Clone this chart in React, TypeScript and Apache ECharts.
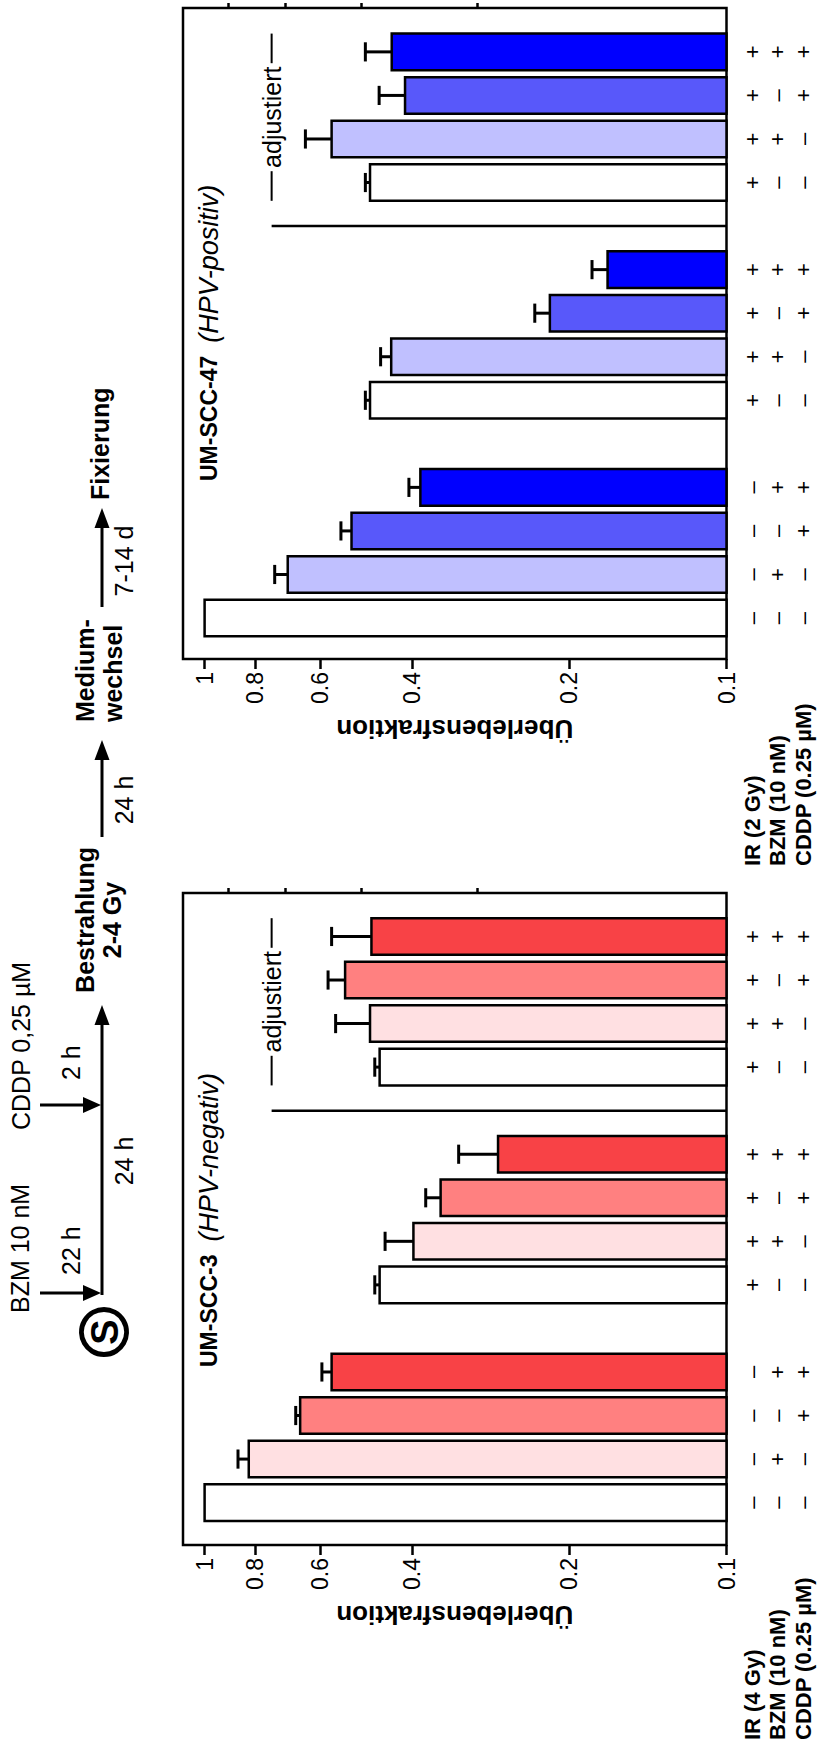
import React, { useEffect, useRef } from "react";
import * as echarts from "echarts";

// ---------------- data ----------------
const IR_ROW = ["–", "–", "–", "–", "+", "+", "+", "+", "+", "+", "+", "+"];
const BZM_ROW = ["–", "+", "–", "+", "–", "+", "–", "+", "–", "+", "–", "+"];
const CDDP_ROW = ["–", "–", "+", "+", "–", "–", "+", "+", "–", "–", "+", "+"];
const GROUP_SIZE = 4;
const ADJUSTED_GROUP = 2; // third group is "adjustiert"

const ROW_NAMES_SCC3 = ["IR (4 Gy)", "BZM (10 nM)", "CDDP (0.25 µM)"];
const ROW_NAMES_SCC47 = ["IR (2 Gy)", "BZM (10 nM)", "CDDP (0.25 µM)"];

const SCC3_VALUES = [1.0, 0.823, 0.656, 0.571, 0.462, 0.398, 0.353, 0.274, 0.462, 0.482, 0.538, 0.479];
const SCC3_ERRORS = [0, 0.04, 0.013, 0.025, 0.01, 0.053, 0.024, 0.052, 0.01, 0.079, 0.042, 0.092];
const SCC47_VALUES = [1.0, 0.693, 0.523, 0.386, 0.482, 0.439, 0.218, 0.169, 0.482, 0.571, 0.413, 0.438];
const SCC47_ERRORS = [0, 0.041, 0.025, 0.02, 0.01, 0.021, 0.015, 0.012, 0.01, 0.07, 0.05, 0.054];

const MAJOR_TICKS = [0.1, 0.2, 0.4, 0.6, 0.8, 1];
const MINOR_TICKS = [0.3, 0.5, 0.7, 0.9];
const Y_MIN = 0.1;
const Y_MAX = 1.1;
const ADJUSTED_LEVEL = 0.744;

const RED_PALETTE = ["#ffffff", "#ffe0e2", "#ff8080", "#f84246"];
const BLUE_PALETTE = ["#ffffff", "#c0c0ff", "#5858fa", "#0000ff"];

// ---------------- layout / style ----------------
const FONT = "'Liberation Sans', Arial, Helvetica, sans-serif";
const W = 1742;
const H = 818;
const TOP = 183;
const PLOT_H = 543.5;
const SLOT = 43.55;
const BAR_RATIO = 0.84;
const CAP_RATIO = 0.44;
const LW = 2.5;
const TITLE_BOLD = 23;
const TITLE_ITALIC = 27;

const CHARTS = [
  {
    title: "UM-SCC-3",
    subtitle: "(HPV-negativ)",
    values: SCC3_VALUES,
    errors: SCC3_ERRORS,
    rows: ROW_NAMES_SCC3,
    palette: RED_PALETTE,
    frameLeft: 197,
    frameWidth: 652,
    dataLeft: 217.6,
    rowLabelX: 2,
  },
  {
    title: "UM-SCC-47",
    subtitle: "(HPV-positiv)",
    values: SCC47_VALUES,
    errors: SCC47_ERRORS,
    rows: ROW_NAMES_SCC47,
    palette: BLUE_PALETTE,
    frameLeft: 1083,
    frameWidth: 651,
    dataLeft: 1102.2,
    rowLabelX: 876,
  },
];

const N = IR_ROW.length;
const catOf = (i: number) => i + Math.floor(i / GROUP_SIZE);
const CAT_COUNT = catOf(N - 1) + 1;
const CAT_NAMES = Array.from({ length: CAT_COUNT }, (_, i) => "c" + i);
const CAT_LABELS: string[] = Array.from({ length: CAT_COUNT }, () => "");
IR_ROW.forEach((_, i) => {
  CAT_LABELS[catOf(i)] = `${IR_ROW[i]}\n${BZM_ROW[i]}\n${CDDP_ROW[i]}`;
});
const colorKey = (i: number) => (BZM_ROW[i] === "+" ? 1 : 0) + (CDDP_ROW[i] === "+" ? 2 : 0);

const firstAdj = ADJUSTED_GROUP * GROUP_SIZE;
const lastAdj = firstAdj + GROUP_SIZE - 1;
const sepCat = catOf(firstAdj) - 1;

const fmtTick = (v: number) => {
  const p = Math.round(Math.pow(10, v) * 10) / 10;
  return String(p);
};

function measure(text: string, font: string): number {
  try {
    const ctx = document.createElement("canvas").getContext("2d");
    if (!ctx) return text.length * 12;
    ctx.font = font;
    return ctx.measureText(text).width;
  } catch (e) {
    return text.length * 12;
  }
}

function txt(text: string, x: number, y: number, o: any = {}) {
  return {
    type: "text",
    x,
    y,
    style: {
      text,
      fill: "#000",
      fontFamily: FONT,
      fontSize: o.size ?? 25,
      fontWeight: o.bold ? "bold" : "normal",
      fontStyle: o.italic ? "italic" : "normal",
      align: o.align ?? "left",
      verticalAlign: "middle",
    },
  };
}

function hArrow(x1: number, x2: number, y: number) {
  return [
    { type: "line", shape: { x1, y1: y, x2: x2 - 16, y2: y }, style: { stroke: "#000", lineWidth: 3 } },
    { type: "polygon", shape: { points: [[x2, y], [x2 - 20, y - 7.5], [x2 - 20, y + 7.5]] }, style: { fill: "#000" } },
  ];
}
function vArrow(x: number, y1: number, y2: number) {
  return [
    { type: "line", shape: { x1: x, y1, x2: x, y2: y2 - 14 }, style: { stroke: "#000", lineWidth: 3 } },
    { type: "polygon", shape: { points: [[x, y2], [x - 8, y2 - 18], [x + 8, y2 - 18]] }, style: { fill: "#000" } },
  ];
}

function buildOption() {
  const grid: any[] = [];
  const xAxis: any[] = [];
  const yAxis: any[] = [];
  const series: any[] = [];
  const graphic: any[] = [];

  CHARTS.forEach((c) => {
    const gF = grid.length;
    grid.push({
      left: c.frameLeft,
      top: TOP,
      width: c.frameWidth,
      height: PLOT_H,
      show: true,
      borderColor: "#000",
      borderWidth: LW,
      backgroundColor: "transparent",
      outerBoundsMode: "none",
    });
    const gD = grid.length;
    grid.push({ left: c.dataLeft, top: TOP, width: SLOT * CAT_COUNT, height: PLOT_H, outerBoundsMode: "none" });

    xAxis.push({ type: "value", gridIndex: gF, show: false, min: 0, max: 1 });
    const xD = xAxis.length;
    xAxis.push({
      type: "category",
      gridIndex: gD,
      data: CAT_NAMES,
      axisLine: { show: false },
      axisTick: { show: false },
      splitLine: { show: false },
      axisLabel: {
        interval: 0,
        color: "#000",
        fontFamily: FONT,
        fontSize: 22,
        lineHeight: 25.5,
        margin: 13,
        formatter: (_v: string, idx: number) => CAT_LABELS[idx],
      },
    });

    const lmin = Math.log10(Y_MIN);
    const lmax = Math.log10(Y_MAX);
    yAxis.push({
      type: "value",
      gridIndex: gF,
      min: lmin,
      max: lmax,
      axisLine: { show: false },
      splitLine: { show: false },
      axisTick: {
        show: true,
        length: 10,
        customValues: MAJOR_TICKS.map((v) => Math.log10(v)),
        lineStyle: { color: "#000", width: LW },
      },
      axisLabel: {
        show: true,
        customValues: MAJOR_TICKS.map((v) => Math.log10(v)),
        formatter: (v: number) => fmtTick(v),
        color: "#000",
        fontFamily: FONT,
        fontSize: 23,
        margin: 13,
      },
      name: "Überlebensfraktion",
      nameLocation: "middle",
      nameGap: 57,
      nameTextStyle: { color: "#000", fontFamily: FONT, fontSize: 26, fontWeight: "bold" },
    });
    yAxis.push({
      type: "value",
      gridIndex: gF,
      min: lmin,
      max: lmax,
      axisLine: { show: false },
      splitLine: { show: false },
      axisTick: {
        show: true,
        length: 5,
        customValues: MINOR_TICKS.map((v) => Math.log10(v)),
        lineStyle: { color: "#000", width: LW },
      },
      axisLabel: { show: false },
    });
    const yD = yAxis.length;
    yAxis.push({ type: "log", gridIndex: gD, min: Y_MIN, max: Y_MAX, show: false, splitLine: { show: false } });

    const palette = c.palette;
    series.push({
      type: "custom",
      xAxisIndex: xD,
      yAxisIndex: yD,
      data: c.values.map((v, i) => [catOf(i), v, c.errors[i], colorKey(i)]),
      renderItem: (_p: any, api: any) => {
        const ci = api.value(0);
        const v = api.value(1);
        const e = api.value(2);
        const k = api.value(3);
        const band = api.size([1, 0])[0];
        const w = band * BAR_RATIO;
        const top = api.coord([ci, v]);
        const base = api.coord([ci, Y_MIN]);
        const children: any[] = [];
        if (e > 0) {
          const et = api.coord([ci, v + e]);
          const cw = band * CAP_RATIO;
          children.push({
            type: "line",
            shape: { x1: top[0], y1: top[1], x2: et[0], y2: et[1] },
            style: { stroke: "#000", lineWidth: LW + 0.5 },
          });
          children.push({
            type: "line",
            shape: { x1: et[0] - cw / 2, y1: et[1], x2: et[0] + cw / 2, y2: et[1] },
            style: { stroke: "#000", lineWidth: LW + 0.5 },
          });
        }
        children.push({
          type: "rect",
          shape: { x: top[0] - w / 2, y: top[1], width: w, height: base[1] - top[1] },
          style: { fill: palette[k], stroke: "#000", lineWidth: LW },
        });
        return { type: "group", children };
      },
    });

    series.push({
      type: "custom",
      xAxisIndex: xD,
      yAxisIndex: yD,
      data: [[sepCat, ADJUSTED_LEVEL, catOf(firstAdj), catOf(lastAdj)]],
      renderItem: (_p: any, api: any) => {
        const s = api.value(0);
        const lvl = api.value(1);
        const a = api.value(2);
        const b = api.value(3);
        const band = api.size([1, 0])[0];
        const p0 = api.coord([s, Y_MIN]);
        const p1 = api.coord([s, lvl]);
        const l = api.coord([a, lvl])[0] - (band * BAR_RATIO) / 2;
        const r = api.coord([b, lvl])[0] + (band * BAR_RATIO) / 2;
        const y = p1[1];
        const mid = (l + r) / 2;
        const gap = 54;
        return {
          type: "group",
          children: [
            { type: "line", shape: { x1: p0[0], y1: p0[1], x2: p1[0], y2: p1[1] }, style: { stroke: "#000", lineWidth: LW } },
            { type: "line", shape: { x1: l, y1: y, x2: mid - gap, y2: y }, style: { stroke: "#000", lineWidth: 2 } },
            { type: "line", shape: { x1: mid + gap, y1: y, x2: r, y2: y }, style: { stroke: "#000", lineWidth: 2 } },
            {
              type: "text",
              x: mid,
              y: y,
              style: {
                text: "adjustiert",
                fill: "#000",
                fontFamily: FONT,
                fontSize: 25,
                align: "center",
                verticalAlign: "middle",
              },
            },
          ],
        };
      },
    });

    const tx = c.frameLeft + 178;
    const bw = measure(c.title, `bold ${TITLE_BOLD}px 'Liberation Sans'`);
    graphic.push(txt(c.title, tx, 209, { bold: true, size: TITLE_BOLD }));
    graphic.push(txt(c.subtitle, tx + bw + 13, 209, { italic: true, size: TITLE_ITALIC }));
    c.rows.forEach((name, r) => {
      graphic.push(txt(name, c.rowLabelX, 752.25 + r * 25.5, { bold: true, size: 22 }));
    });
  });

  // schematic (top of original figure)
  const LINE_Y = 102;
  graphic.push(
    { type: "circle", shape: { cx: 410, cy: 104, r: 22.5 }, style: { fill: "#fff", stroke: "#000", lineWidth: 5 } },
    txt("S", 410, 105, { bold: true, size: 38, align: "center" }),
    ...vArrow(449, 40, LINE_Y - 1),
    ...vArrow(637, 40, LINE_Y - 1),
    ...hArrow(447, 737, LINE_Y),
    ...hArrow(905, 1002, LINE_Y),
    ...hArrow(1135, 1234, LINE_Y),
    txt("BZM 10 nM", 429, 20),
    txt("CDDP 0,25 µM", 612, 21),
    txt("22 h", 467, 71),
    txt("2 h", 662, 71),
    txt("24 h", 581, 124, { align: "center" }),
    txt("Bestrahlung", 822, 85, { bold: true, align: "center" }),
    txt("2-4 Gy", 822, 112, { bold: true, align: "center" }),
    txt("24 h", 942, 124, { align: "center" }),
    txt("Medium-", 1020, 85, { bold: true }),
    txt("wechsel", 1020, 113, { bold: true }),
    txt("7-14 d", 1181, 124, { align: "center" }),
    txt("Fixierung", 1242, 100, { bold: true })
  );

  return {
    animation: false,
    backgroundColor: "#fff",
    textStyle: { fontFamily: FONT },
    grid,
    xAxis,
    yAxis,
    series,
    graphic,
  };
}

export default function App() {
  const ref = useRef<HTMLDivElement>(null);
  useEffect(() => {
    if (!ref.current) return;
    const chart = echarts.init(ref.current, undefined, { renderer: "svg" });
    chart.setOption(buildOption() as any);
    return () => chart.dispose();
  }, []);
  return (
    <div
      style={{
        position: "absolute",
        left: 0,
        top: 0,
        width: H,
        height: W,
        overflow: "hidden",
        background: "#fff",
      }}
    >
      <div
        ref={ref}
        style={{
          position: "absolute",
          left: 0,
          top: 0,
          width: W,
          height: H,
          transformOrigin: "0 0",
          transform: `translateY(${W}px) rotate(-90deg)`,
        }}
      />
    </div>
  );
}
